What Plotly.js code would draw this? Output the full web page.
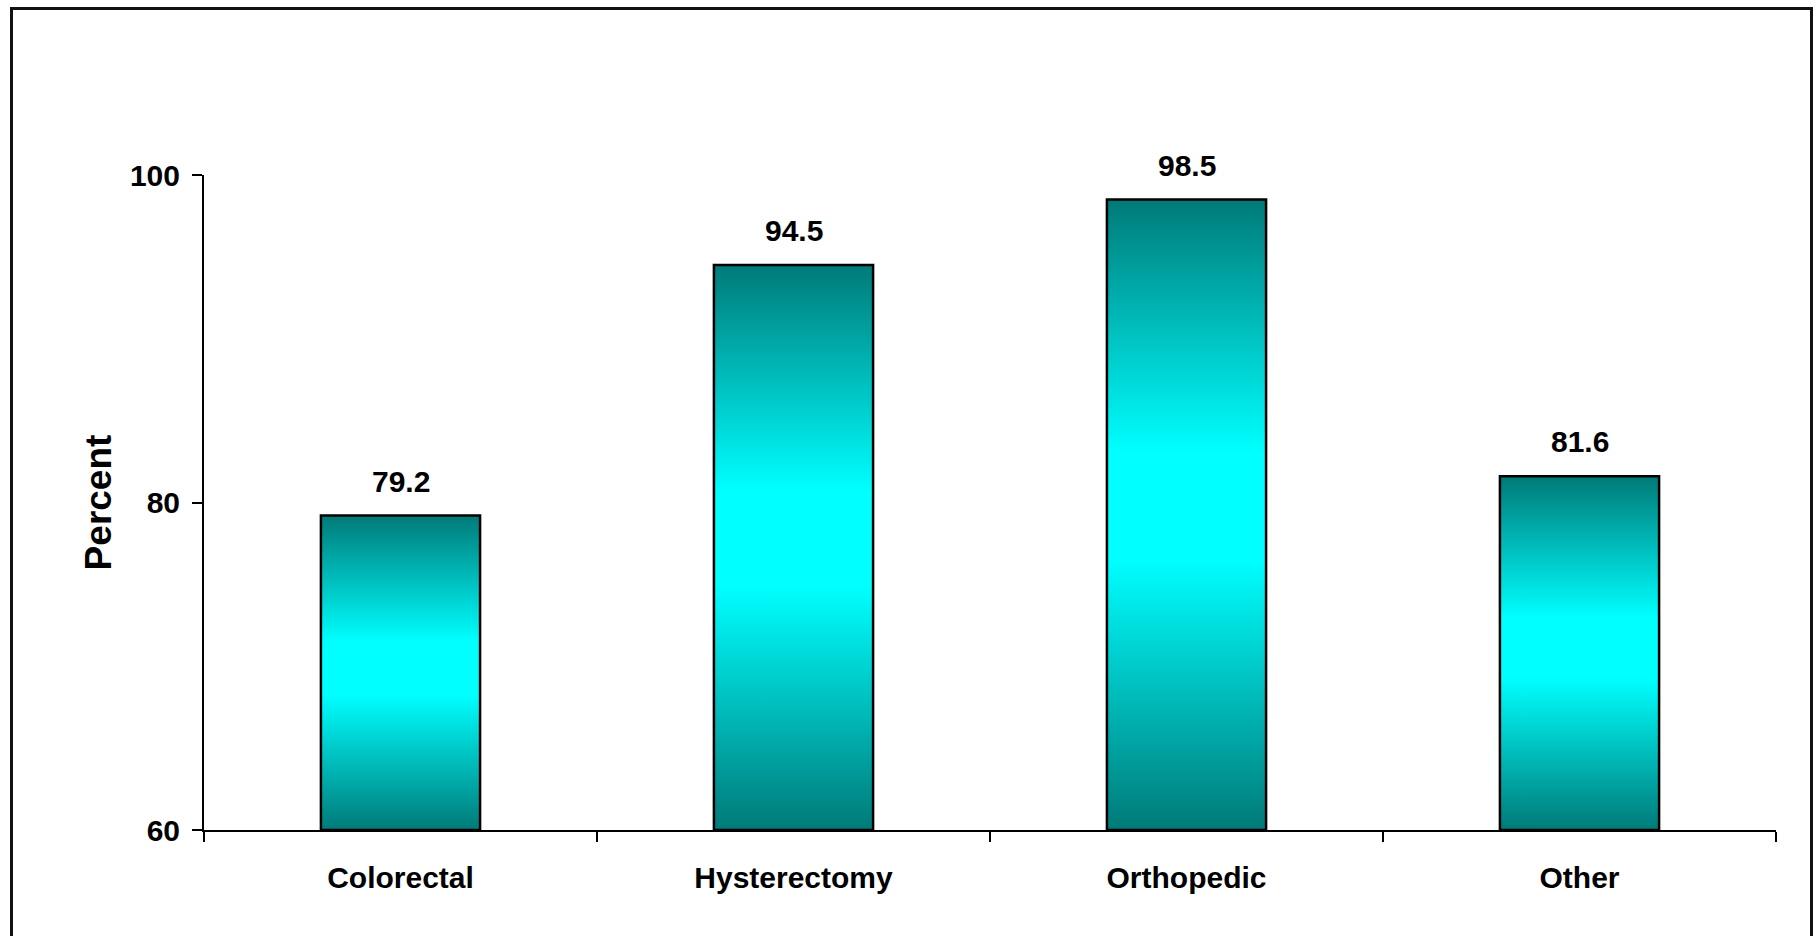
<!DOCTYPE html>
<html>
<head>
<meta charset="utf-8">
<script src="https://cdn.plot.ly/plotly-3.0.1.min.js"></script>
<style>
  html, body { margin: 0; padding: 0; background: #fff; overflow: hidden; }
  #chart { width: 1818px; height: 936px; }
  #frame {
    position: absolute; left: 10px; top: 7px; width: 1803px; height: 1000px;
    box-sizing: border-box; border: 3px solid #111; border-bottom: none;
    pointer-events: none;
  }
</style>
</head>
<body>
<div id="chart"></div>
<div id="frame"></div>
<script>
const categories = ["Colorectal", "Hysterectomy", "Orthopedic", "Other"];
const percentValues = [79.2, 94.5, 98.5, 81.6];
const yAxisMin = 60;
const yAxisMax = 100;
const yTickValues = [60, 80, 100];
const yTickLabels = ["60", "80", "100"];

const boldFont = { family: "Liberation Sans, Arial, sans-serif", color: "#000", weight: "bold" };

// Bars start at the axis floor so each bar's own gradient covers its visible part
const trace = {
  type: "bar",
  x: categories,
  base: percentValues.map(() => yAxisMin),
  y: percentValues.map(v => v - yAxisMin),
  customdata: percentValues,
  hovertemplate: "%{x}: %{customdata}<extra></extra>",
  marker: { color: "#00BFBF", line: { color: "#000", width: 2.5 } }
};

const annotations = categories.map((c, i) => ({
  x: c, y: percentValues[i], xref: "x", yref: "y",
  text: percentValues[i].toFixed(1),
  showarrow: false, yanchor: "bottom", yshift: 16,
  font: Object.assign({}, boldFont, { size: 30 })
}));

const layout = {
  width: 1818, height: 936,
  margin: { l: 204, r: 42, t: 175, b: 106 },
  paper_bgcolor: "#fff", plot_bgcolor: "#fff",
  showlegend: false,
  bargap: 0.595,
  xaxis: {
    type: "category",
    tickson: "boundaries",
    ticks: "outside", ticklen: 10, tickwidth: 2, tickcolor: "#000",
    showline: true, linecolor: "#000", linewidth: 2,
    showgrid: false, zeroline: false,
    tickfont: Object.assign({}, boldFont, { size: 30 }),
    ticklabelstandoff: 20
  },
  yaxis: {
    range: [yAxisMin, yAxisMax],
    tickvals: yTickValues, ticktext: yTickLabels,
    ticks: "outside", ticklen: 10, tickwidth: 2, tickcolor: "#000",
    showline: true, linecolor: "#000", linewidth: 2,
    showgrid: false, zeroline: false,
    tickfont: Object.assign({}, boldFont, { size: 30 }),
    ticklabelstandoff: 6,
    title: { text: "Percent", font: Object.assign({}, boldFont, { size: 37 }), standoff: 7 }
  },
  annotations: annotations
};

Plotly.newPlot("chart", [trace], layout, { displayModeBar: false, staticPlot: true }).then(() => {
  const svg = document.querySelector("#chart .main-svg");
  const ns = "http://www.w3.org/2000/svg";
  let defs = svg.querySelector("defs");
  if (!defs) { defs = document.createElementNS(ns, "defs"); svg.insertBefore(defs, svg.firstChild); }
  const grad = document.createElementNS(ns, "linearGradient");
  grad.setAttribute("id", "tealGrad");
  grad.setAttribute("x1", "0"); grad.setAttribute("y1", "0");
  grad.setAttribute("x2", "0"); grad.setAttribute("y2", "1");
  [["0", "#007A78"], ["0.4", "#00FFFF"], ["0.57", "#00FFFF"], ["1", "#007A78"]].forEach(([o, c]) => {
    const s = document.createElementNS(ns, "stop");
    s.setAttribute("offset", o); s.setAttribute("stop-color", c);
    grad.appendChild(s);
  });
  defs.appendChild(grad);
  document.querySelectorAll("#chart .bars .point path").forEach(p => {
    p.style.fill = "url(#tealGrad)";
    p.style.fillOpacity = 1;
  });
});
</script>
</body>
</html>
